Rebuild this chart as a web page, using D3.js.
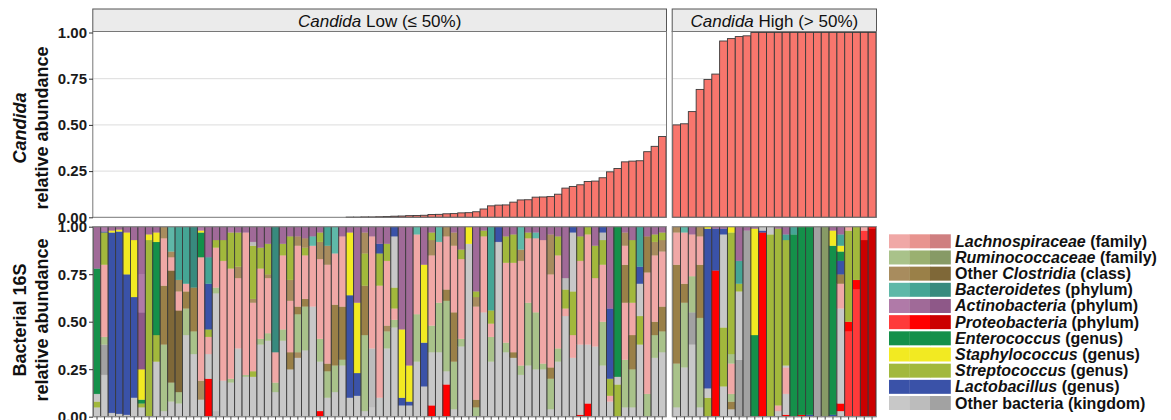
<!DOCTYPE html>
<html>
<head>
<meta charset="utf-8">
<script src="https://cdn.jsdelivr.net/npm/d3@7"></script>
<style>
  html, body { margin: 0; padding: 0; background: #fff; }
  svg { display: block; font-family: "Liberation Sans", Arial, sans-serif; }
</style>
</head>
<body>
<svg id="chart" width="1171" height="420"></svg>
<script>
// Candida relative abundance per sample, sorted within each group
const candidaLow = [
  0,0,0,0,0,0,0,0,0,0, 0,0,0,0,0,0,0,0,0,0, 0,0,0,0,0,0,0,0,0,0, 0,0,0,0,
  0.001,0.001,0.002,0.002,0.003,0.004,0.006,0.007,0.009,0.010,0.011,0.015,0.016,0.019,0.020,0.024,
  0.025,0.030,0.045,0.062,0.066,0.067,0.082,0.094,0.095,0.109,0.110,0.112,0.125,0.158,0.167,0.176,
  0.194,0.196,0.214,0.246,0.264,0.300,0.304,0.306,0.355,0.384,0.437
];
const candidaHigh = [
  0.50,0.506,0.572,0.692,0.746,0.775,0.954,0.967,0.978,0.982,
  1,1,1,1,1,1,1,1,1,1,1,1,1,1,1,1
];

// Bacterial composition per sample: taxon code and cumulative top, bottom to top
const bacteriaLow = [
  "O1 .05|S .08|O1 .12|E .78|A2 1",
  "O1 .22|O3 .38|R1 .42|L1 .80|S .97|K .975|A1 1",
  "O1 .02|K .97|Y .98|A2 1",
  "O1 .015|K .975|Y .985|A2 1",
  "O1 .01|K .75|Y .97|A2 1",
  "O1 .10|K .63|Y .93|A2 1",
  "O1 .05|S .07|E .09|Y .25|A3 .55|A1 .75|A2 1",
  "S .93|Y .96|A2 1",
  "O1 .29|S .43|E .92|Y .97|A2 1",
  "O1 .03|R1 .38|C2 .69|L1 .94|C1 1",
  "O1 .08|R1 .18|C3 .77|L1 .84|C1 .87|B1 1",
  "O1 .07|R1 .13|C3 .56|L1 .66|C1 .72|B2 1",
  "O1 .43|R1 .57|C2 .66|L1 .70|B2 1",
  "O1 .33|R1 .45|C2 .68|B3 1",
  "O1 .09|C1 .19|L1 .84|E .97|Y .98|A1 1",
  "P2 .20|O1 .33|L1 .42|S .46|K .70|B2 .84|A2 1",
  "O2 .03|O1 .65|R1 .68|L1 .89|S .93|A2 1",
  "O1 .19|L1 .82|S .93|A2 1",
  "O1 .18|R1 .20|L1 .78|S .97|A1 1",
  "O1 .36|L1 .73|C1 .79|S .97|A2 1",
  "O1 .21|R1 .22|L1 .97|A2 1",
  "O1 .21|S .24|L1 .60|C1 .62|S .90|O2 .92|A2 1",
  "O1 .38|R1 .41|L1 .78|S .89|A2 1",
  "O1 .40|R1 .44|L1 .73|C1 .75|S .91|A2 1",
  "O1 .13|R1 .18|L1 .34|B3 1",
  "O1 .40|R1 .46|L1 .85|S .91|A2 1",
  "O1 .25|C2 .34|L1 .61|C1 .72|S .95|A2 1",
  "O1 .31|C1 .34|R1 .54|C2 .58|L1 .90|C1 .95|A2 1",
  "O1 .35|R1 .58|C2 .62|L1 .85|S .89|C1 .94|A2 1",
  "O1 .58|L1 .90|B1 .95|A2 1",
  "P2 .03|O1 .29|R1 .41|L1 .83|C1 .92|S .97|A2 1",
  "O1 .10|R1 .24|C2 .28|L1 .80|C1 .90|B2 1",
  "O1 .13|R1 .27|C2 .59|L1 .86|B1 1",
  "O1 .27|R1 .30|C2 .58|L1 .95|A2 1",
  "O1 .10|K .64|Y .97|A2 1",
  "O1 .11|K .23|Y .60|A2 1",
  "O1 .03|R1 .43|C2 .69|S .86|C1 .97|A2 1",
  "O1 .05|O2 .36|L1 .95|A2 1",
  "O1 .10|L1 .69|S .86|K .91|A2 1",
  "O1 .36|R1 .45|C1 .48|L1 .82|S .91|A2 1",
  "O1 .47|R1 .51|L1 .57|S .68|O1 .95|K 1",
  "O1 .06|K .10|Y .46|A2 1",
  "O1 .06|K .08|Y .27|A2 1",
  "O1 .29|R1 .54|L1 .96|B1 1",
  "O1 .16|K .39|Y .80|A2 1",
  "P2 .06|O1 .34|R1 .48|L1 .85|C1 .93|S .97|A2 1",
  "O1 .34|R1 .60|L1 .92|B1 1",
  "P2 .17|O1 .24|R1 .61|C2 .67|L1 .95|C1 1",
  "O1 .04|R1 .29|C2 .55|L1 .90|C1 .97|A2 1",
  "O1 .37|R1 .41|L1 .83|S .88|A2 1",
  "O1 .91|Y 1",
  "R1 .05|C2 .09|L1 .58|C1 .63|S .66|A2 1",
  "O1 .55|L1 .95|S .98|A2 1",
  "O1 .29|R1 .42|L1 .49|S .56|B2 1",
  "O1 .92|K 1",
  "O1 .34|R1 .39|L1 .81|S .95|A2 1",
  "O1 .31|C2 .34|L1 .81|S .96|A2 1",
  "O1 .22|R1 .27|L1 .82|C1 .88|B1 1",
  "O1 .27|R1 .60|L1 .94|S .97|A2 1",
  "O1 .25|R1 .55|L1 .94|B1 .97|A2 1",
  "O1 .25|R1 .28|L1 .93|A2 1",
  "O1 .04|R1 .20|C2 .26|L1 .75|C1 .96|A2 1",
  "O1 .29|R1 .36|L1 .85|S .95|A2 1",
  "O1 .53|L1 .57|S .67|O2 .73|A2 1",
  "O1 .31|L1 .43|S .66|O1 .97|K 1",
  "P2 .01|O1 .38|L1 .82|S .95|A2 1",
  "P2 .07|O1 .38|L1 .96|S 1",
  "O1 .37|L1 .73|S .90|A2 1",
  "O1 .27|R1 .50|L1 .80|S .93|O2 .97|K 1",
  "O1 .08|L1 .11|S .20|K .57|A2 1",
  "S .17|O1 .21|E 1",
  "O1 .05|R1 .30|L1 .60|C2 .80|L1 .90|C1 .97|A2 1",
  "O1 .05|R1 .25|C2 .43|L1 .60|S .93|A2 1",
  "O1 .38|S .53|O1 .70|K .79|B2 1",
  "R1 .12|L1 .76|C2 .95|A2 1",
  "O1 .31|R1 .43|C2 .50|L1 .85|C1 .92|S .96|A2 1",
  "O1 .34|R1 .45|C2 .58|L1 .87|C1 .93|S .97|A2 1"
];
const bacteriaHigh = [
  "O1 .05|R1 .28|C2 .80|L1 .97|C1 1",
  "O1 .26|R1 .60|C2 .70|L1 .97|B1 1",
  "O1 .38|O3 .55|R1 .74|L1 .96|A2 1",
  "O1 .05|R1 .52|C2 .80|L1 .95|C1 1",
  "S .10|O1 .15|K .99|Y 1",
  "P2 .77|K .99|A2 1",
  "O1 .16|S .47|O1 .96|K .99|A2 1",
  "O1 .04|C2 .08|R1 .12|L1 .28|R1 .33|S .97|Y 1",
  "O3 .30|O1 .66|S .70|B2 .82|A2 1",
  "O3 .98|A2 1",
  "E .43|Y .99|A2 1",
  "P2 .97|K .98|O1 1",
  "S .96|O1 1",
  "O1 .03|L1 .06|S .99|A2 1",
  "P2 .01|O1 .12|L1 .26|O1 .27|S .93|B2 .96|A2 1",
  "E .96|B2 1",
  "P2 .01|E 1",
  "K .01|E 1",
  "O3 1",
  "R3 1",
  "K .01|E .90|Y .98|A2 1",
  "O1 .03|P2 .07|O1 .57|L1 .70|C2 .75|K .82|E .87|Y .90|B2 .96|A2 1",
  "P1 .45|P2 .50|S .98|L1 1",
  "P1 .67|P2 .72|S 1",
  "P3 .93|P1 .98|L1 1",
  "P3 .99|P2 1"
];

// Facet labels and axis ticks
const facetLabels = [["Candida", " Low (≤ 50%)"], ["Candida", " High (> 50%)"]];
const yTicks = [0, 0.25, 0.5, 0.75, 1];

// Legend entries: code, italic name, plain rank
const taxa = [
  ["L", "Lachnospiraceae", " (family)", ""],
  ["R", "Ruminococcaceae", " (family)", ""],
  ["C", "Clostridia", " (class)", "Other "],
  ["B", "Bacteroidetes", " (phylum)", ""],
  ["A", "Actinobacteria", " (phylum)", ""],
  ["P", "Proteobacteria", " (phylum)", ""],
  ["E", "Enterococcus", " (genus)", ""],
  ["Y", "Staphylococcus", " (genus)", ""],
  ["S", "Streptococcus", " (genus)", ""],
  ["K", "Lactobacillus", " (genus)", ""],
  ["O", "bacteria", " (kingdom)", "Other "]
];

// Shades for each taxon group
const palette = {
  L: ["#f0a8a6", "#e8948f", "#cf7f80"],
  R: ["#a9c28a", "#9ab070", "#879a66"],
  C: ["#a88c5e", "#9a8048", "#7f6838"],
  B: ["#5fb8a8", "#45a595", "#388a7e"],
  A: ["#b07aa8", "#a06a98", "#8e5888"],
  P: ["#ff3a3a", "#ff0000", "#cc0000"],
  E: ["#14904a"],
  Y: ["#f2ea22"],
  S: ["#a2b83c"],
  K: ["#3a52a8"],
  O: ["#c8c8c8", "#bcbcbc", "#a2a2a2"]
};
const colorOf = code => {
  const shades = palette[code[0]];
  const i = code.length > 1 ? +code[1] - 1 : 0;
  return shades[Math.min(i, shades.length - 1)];
};

function parseStack(str) {
  let y0 = 0;
  return str.split("|").map(s => {
    const [code, top] = s.trim().split(" ");
    const seg = { code, y0, y1: +top };
    y0 = +top;
    return seg;
  });
}

const svg = d3.select("#chart");
const font = "'Liberation Sans', Arial, sans-serif";

// Panel geometry
const facets = [
  { x0: 93.3, x1: 666, top: candidaLow, bottom: bacteriaLow, label: facetLabels[0] },
  { x0: 672.7, x1: 876, top: candidaHigh, bottom: bacteriaHigh, label: facetLabels[1] }
];
const topPanel = { y0: 31.5, y1: 217.3 };
const botPanel = { y0: 226.7, y1: 416.7 };
const yTop = d3.scaleLinear().domain([0, 1]).range([topPanel.y1, topPanel.y0 + 1]);
const yBot = d3.scaleLinear().domain([0, 1]).range([botPanel.y1, botPanel.y0]);

facets.forEach(f => {
  const x = d3.scaleBand()
    .domain(d3.range(f.top.length))
    .range([f.x0, f.x1])
    .padding(0);

  // Strip
  const strip = svg.append("g");
  strip.append("rect")
    .attr("x", f.x0 - 0.5).attr("y", 9)
    .attr("width", f.x1 - f.x0 + 1).attr("height", topPanel.y0 - 9)
    .attr("fill", "#ebebeb").attr("stroke", "#555").attr("stroke-width", 1);
  const t = strip.append("text")
    .attr("x", (f.x0 + f.x1) / 2).attr("y", 26.5)
    .attr("text-anchor", "middle")
    .style("font-family", font).style("font-size", "17px").attr("fill", "#111");
  t.append("tspan").style("font-style", "italic").text(f.label[0]);
  t.append("tspan").text(f.label[1]);

  // Top panel: gridlines, bars, border
  const g1 = svg.append("g");
  g1.selectAll("line.grid").data(yTicks.slice(1, 4)).join("line")
    .attr("x1", f.x0).attr("x2", f.x1)
    .attr("y1", d => yTop(d)).attr("y2", d => yTop(d))
    .attr("stroke", "#dcdcdc").attr("stroke-width", 1);
  g1.selectAll("rect.bar").data(f.top).join("rect")
    .attr("x", (d, i) => x(i))
    .attr("width", x.bandwidth())
    .attr("y", d => yTop(d))
    .attr("height", d => yTop(0) - yTop(d))
    .attr("fill", "#f8766d")
    .attr("stroke", "#3a3a3a").attr("stroke-width", 0.9);
  g1.append("rect")
    .attr("x", f.x0 - 0.5).attr("y", topPanel.y0)
    .attr("width", f.x1 - f.x0 + 1).attr("height", topPanel.y1 - topPanel.y0)
    .attr("fill", "none").attr("stroke", "#777").attr("stroke-width", 1);

  // Bottom panel: stacked composition
  const g2 = svg.append("g");
  const cols = g2.selectAll("g.col").data(f.bottom.map(parseStack)).join("g")
    .attr("transform", (d, i) => `translate(${x(i)},0)`);
  cols.selectAll("rect").data(d => d).join("rect")
    .attr("x", 0)
    .attr("width", x.bandwidth())
    .attr("y", d => yBot(d.y1))
    .attr("height", d => yBot(d.y0) - yBot(d.y1))
    .attr("fill", d => colorOf(d.code))
    .attr("stroke", d => colorOf(d.code)).attr("stroke-width", 0.3);
  cols.append("rect")
    .attr("x", 0).attr("width", x.bandwidth())
    .attr("y", yBot(1)).attr("height", yBot(0) - yBot(1))
    .attr("fill", "none").attr("stroke", "#3a3a3a").attr("stroke-width", 0.9);
  g2.append("rect")
    .attr("x", f.x0 - 0.5).attr("y", botPanel.y0)
    .attr("width", f.x1 - f.x0 + 1).attr("height", botPanel.y1 - botPanel.y0)
    .attr("fill", "none").attr("stroke", "#999").attr("stroke-width", 1);

  // Sample ticks along the bottom
  const xa = svg.append("g")
    .attr("transform", `translate(0,${botPanel.y1})`)
    .call(d3.axisBottom(x).tickSize(3).tickFormat(""));
  xa.select(".domain").remove();
  xa.selectAll("line").attr("stroke", "#444");
});

// Y axes
function yAxis(scale, x) {
  const a = svg.append("g")
    .attr("transform", `translate(${x},0)`)
    .call(d3.axisLeft(scale).tickValues(yTicks).tickFormat(d3.format(".2f")).tickSize(4).tickPadding(2));
  a.select(".domain").remove();
  a.selectAll("line").attr("stroke", "#333");
  a.selectAll("text")
    .style("font-family", font).style("font-size", "15px").style("font-weight", "bold")
    .attr("fill", "#1a1a1a");
}
yAxis(yTop, 93);
yAxis(yBot, 93);

// Axis titles
function yTitle(lines, cy) {
  lines.forEach((parts, i) => {
    const tx = svg.append("text")
      .attr("transform", `translate(${26 + i * 22},${cy}) rotate(-90)`)
      .attr("text-anchor", "middle")
      .style("font-family", font).style("font-size", "18px").style("font-weight", "bold")
      .attr("fill", "#111");
    parts.forEach(p => tx.append("tspan").style("font-style", p[1] ? "italic" : "normal").text(p[0]));
  });
}
yTitle([[["Candida", true]], [["relative abundance", false]]], 128);
yTitle([[["Bacterial 16S", false]], [["relative abundance", false]]], 320);

// Legend
const lg = svg.append("g").attr("transform", "translate(889,234.3)");
const rows = lg.selectAll("g").data(taxa).join("g")
  .attr("transform", (d, i) => `translate(0,${i * 16.17})`);
rows.each(function(d) {
  const row = d3.select(this);
  const shades = palette[d[0]];
  const w = 61.5 / 3;
  d3.range(3).forEach(k => {
    row.append("rect")
      .attr("x", k * w).attr("y", 0)
      .attr("width", w + 0.3).attr("height", 14)
      .attr("fill", shades[Math.min(k, shades.length - 1)]);
  });
  const tx = row.append("text")
    .attr("x", 66).attr("y", 12.5)
    .style("font-family", font).style("font-size", "16px").style("font-weight", "bold")
    .attr("fill", "#111");
  if (d[3]) tx.append("tspan").text(d[3]);
  tx.append("tspan").style("font-style", d[0] === "O" ? "normal" : "italic").text(d[1]);
  tx.append("tspan").text(d[2]);
});
</script>
</body>
</html>
